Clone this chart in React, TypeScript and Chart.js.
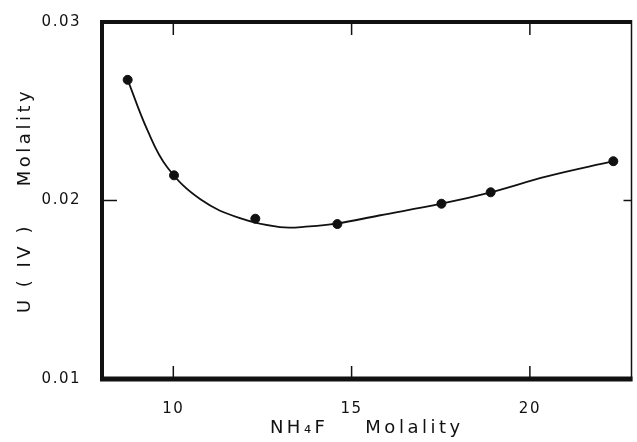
import React, { useEffect, useRef } from "react";
import { Chart, registerables } from "chart.js";

Chart.register(...registerables);

// measured points (NH4F molality, U(IV) molality)
const measuredX = [8.72, 10.02, 12.3, 14.6, 17.52, 18.9, 22.34];
const measuredY = [0.02676, 0.02141, 0.01898, 0.01868, 0.01982, 0.02046, 0.0222];

// smooth drawn curve
const curveX = [8.72, 9.28, 9.83, 10.77, 11.87, 12.99, 13.82, 14.57, 15.77, 17.52, 18.9, 20.48, 22.34];
const curveY = [0.02676, 0.02391, 0.02186, 0.02005, 0.01901, 0.01851, 0.01855, 0.0187, 0.01916, 0.01982, 0.02046, 0.02135, 0.0222];

const xTickValues = [10, 15, 20];
const yTickValues = [0.01, 0.02, 0.03];
const yTickLabels = ["0.01", "0.02", "0.03"];

const xTitle = "NH\u2084F    Molality";
const yTitle = "U ( IV )    Molality";

const INK = "#111";
const FONT = "'DejaVu Sans', sans-serif";

const framePlugin = {
  id: "frame",
  afterDatasetsDraw(chart: any) {
    const ctx = chart.ctx;
    const { left, right, top, bottom } = chart.chartArea;
    const xs = chart.scales.x;
    const ys = chart.scales.y;
    const line = (x1: number, y1: number, x2: number, y2: number, w: number) => {
      ctx.lineWidth = w;
      ctx.beginPath();
      ctx.moveTo(x1, y1);
      ctx.lineTo(x2, y2);
      ctx.stroke();
    };
    ctx.save();
    ctx.strokeStyle = INK;
    ctx.lineCap = "butt";
    line(left, top - 2, left, bottom + 2, 4);
    line(left - 2, top, right, top, 4);
    line(left - 2, bottom, right + 1, bottom, 5);
    line(right, top - 2, right, bottom + 2, 1.5);
    xs.ticks.forEach((t: any) => {
      if (t.value <= xs.min || t.value >= xs.max) return;
      const px = xs.getPixelForValue(t.value);
      line(px, bottom, px, bottom - 13, 1.5);
      line(px, top, px, top + 13, 1.5);
    });
    ys.ticks.forEach((t: any) => {
      if (t.value <= ys.min || t.value >= ys.max) return;
      const py = ys.getPixelForValue(t.value);
      line(left, py, left + 15, py, 1.5);
      line(right, py, right - 8, py, 1.5);
    });
    ctx.restore();
  },
};

export default function App() {
  const ref = useRef<HTMLCanvasElement | null>(null);

  useEffect(() => {
    if (!ref.current) return;
    const c2d: any = ref.current.getContext("2d");
    const origFill = c2d.fillText;
    c2d.fillText = function (text: string, x: number, y: number, mw?: number) {
      this.letterSpacing = String(this.font).includes("18px") ? "3.5px" : "1.5px";
      return mw === undefined ? origFill.call(this, text, x, y) : origFill.call(this, text, x, y, mw);
    };
    const chart = new Chart(ref.current, {
      type: "scatter",
      data: {
        datasets: [
          {
            type: "line",
            data: curveX.map((x, i) => ({ x, y: curveY[i] })),
            borderColor: INK,
            borderWidth: 1.8,
            pointRadius: 0,
            tension: 0.4,
            fill: false,
          } as any,
          {
            type: "scatter",
            data: measuredX.map((x, i) => ({ x, y: measuredY[i] })),
            backgroundColor: INK,
            borderColor: INK,
            pointRadius: 4.5,
            borderWidth: 1,
          },
        ],
      },
      plugins: [framePlugin],
      options: {
        animation: false,
        responsive: true,
        maintainAspectRatio: false,
        layout: { padding: { top: 21, right: 3, left: 0, bottom: 0 } },
        plugins: { legend: { display: false }, tooltip: { enabled: false } },
        scales: {
          x: {
            type: "linear",
            min: 8.0,
            max: 22.85,
            grid: { display: false },
            border: { display: false },
            afterBuildTicks: (s: any) => {
              s.ticks = xTickValues.map((v) => ({ value: v }));
            },
            afterFit: (s: any) => {
              s.height = 63;
            },
            ticks: {
              color: INK,
              padding: 13,
              font: { family: FONT, size: 15 },
              callback: (v: any) => String(v),
            },
            title: {
              display: true,
              text: xTitle,
              color: INK,
              font: { family: FONT, size: 18 },
              padding: { top: 0, bottom: 3 },
            },
          },
          y: {
            type: "linear",
            min: 0.01,
            max: 0.03,
            grid: { display: false },
            border: { display: false },
            afterBuildTicks: (s: any) => {
              s.ticks = yTickValues.map((v) => ({ value: v }));
            },
            afterFit: (s: any) => {
              s.width = 102;
            },
            ticks: {
              color: INK,
              padding: 13,
              font: { family: FONT, size: 15 },
              callback: (v: any) => {
                const i = yTickValues.indexOf(v);
                return i >= 0 ? yTickLabels[i] : "";
              },
            },
            title: {
              display: true,
              text: yTitle,
              color: INK,
              font: { family: FONT, size: 18 },
              padding: { top: 15, bottom: 0 },
            },
          },
        },
      },
    });
    return () => {
      chart.destroy();
      c2d.fillText = origFill;
    };
  }, []);

  return (
    <div style={{ position: "absolute", left: 0, top: 0, width: 637, height: 442, background: "#fff" }}>
      <canvas ref={ref} />
    </div>
  );
}
